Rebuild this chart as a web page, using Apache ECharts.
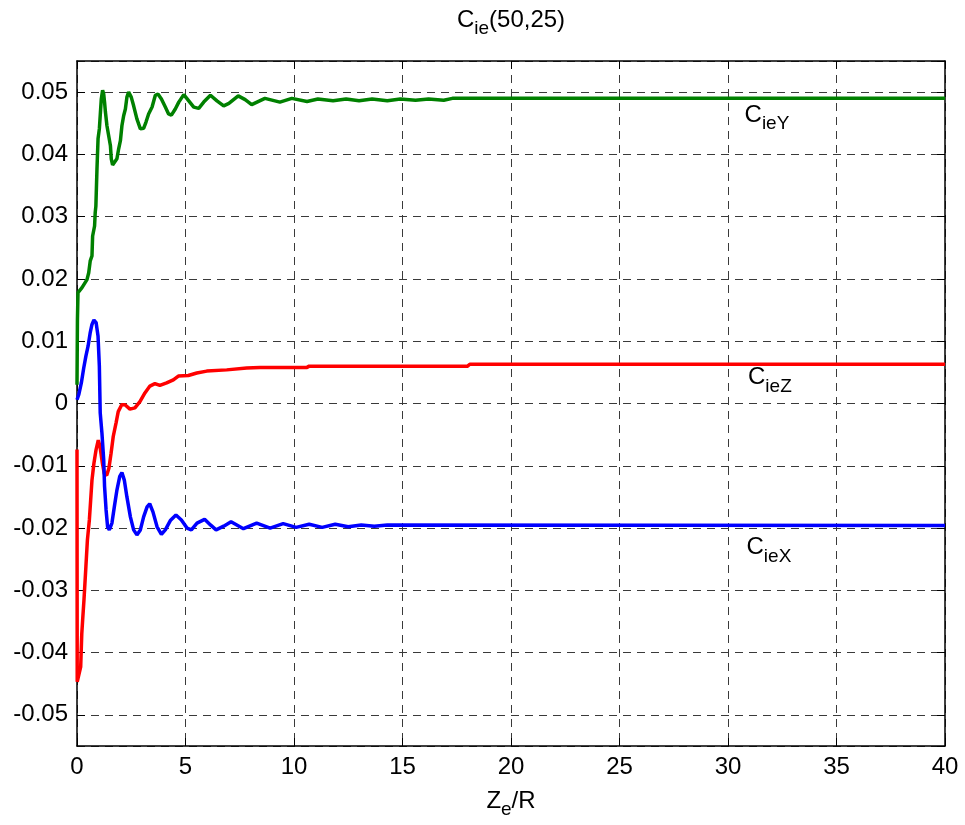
<!DOCTYPE html>
<html>
<head>
<meta charset="utf-8">
<title>C_ie(50,25)</title>
<script src="https://cdn.jsdelivr.net/npm/echarts@6/dist/echarts.min.js"></script>
<style>
  html, body { margin: 0; padding: 0; background: #fff; }
  #chart { width: 965px; height: 825px; }
</style>
</head>
<body>
<div id="chart"></div>
<script>
// Force coefficient components versus Ze/R
const xTicks = [0, 5, 10, 15, 20, 25, 30, 35, 40];

// C_ieY (green)
const cieY_z = [0, 0.02, 0.046, 0.23, 0.46, 0.54, 0.61, 0.69, 0.72, 0.81, 0.84, 0.87, 0.92, 0.97, 1.03, 1.12, 1.18, 1.23, 1.27, 1.31, 1.38, 1.46, 1.54, 1.58, 1.64, 1.73, 1.84, 1.92, 2.0, 2.07, 2.15, 2.23, 2.3, 2.38, 2.5, 2.61, 2.76, 2.92, 3.07, 3.18, 3.3, 3.46, 3.61, 3.73, 3.89, 4.07, 4.22, 4.35, 4.53, 4.69, 4.92, 5.15, 5.38, 5.61, 5.84, 6.15, 6.45, 6.76, 7.0, 7.43, 7.75, 8.05, 8.66, 9.35, 9.9, 10.6, 11.1, 11.8, 12.4, 13.0, 13.6, 14.3, 14.9, 15.6, 16.2, 16.9, 17.3, 40];
const cieY_v = [0.003, 0.0135, 0.0178, 0.0186, 0.0199, 0.021, 0.0229, 0.0237, 0.0269, 0.0285, 0.0307, 0.0317, 0.0376, 0.0425, 0.0441, 0.0489, 0.0503, 0.0497, 0.0484, 0.0468, 0.0446, 0.043, 0.0414, 0.0393, 0.0383, 0.0382, 0.0393, 0.0409, 0.0422, 0.0446, 0.0462, 0.0473, 0.0492, 0.05, 0.0492, 0.0478, 0.0457, 0.0441, 0.0442, 0.0452, 0.0465, 0.0476, 0.0495, 0.0497, 0.0489, 0.0476, 0.0465, 0.0463, 0.0473, 0.0484, 0.0496, 0.0486, 0.0476, 0.0474, 0.0484, 0.0495, 0.0486, 0.0478, 0.0482, 0.0494, 0.0488, 0.048, 0.049, 0.0484, 0.049, 0.0485, 0.0489, 0.0486, 0.0489, 0.0486, 0.0489, 0.0486, 0.0489, 0.0487, 0.0489, 0.0487, 0.049, 0.049];

// C_ieZ (red)
const cieZ_z = [0, 0.01, 0.09, 0.17, 0.22, 0.26, 0.32, 0.41, 0.48, 0.57, 0.63, 0.69, 0.78, 0.88, 0.98, 1.06, 1.17, 1.26, 1.37, 1.47, 1.57, 1.67, 1.8, 1.9, 2.06, 2.21, 2.44, 2.67, 2.9, 3.13, 3.36, 3.59, 3.82, 4.13, 4.44, 4.67, 5.13, 5.52, 5.98, 6.9, 7.82, 8.43, 10.6, 10.7, 18.0, 18.1, 40];
const cieZ_v = [-0.0074, -0.0447, -0.0447, -0.0423, -0.037, -0.0348, -0.0316, -0.0262, -0.0219, -0.0187, -0.0155, -0.0123, -0.0096, -0.0074, -0.0059, -0.0069, -0.0096, -0.0113, -0.0115, -0.0104, -0.008, -0.0053, -0.0031, -0.0013, -0.0002, -0.0002, -0.0009, -0.0007, 0.0003, 0.0017, 0.0028, 0.0032, 0.0029, 0.0033, 0.0038, 0.0044, 0.0045, 0.0049, 0.0052, 0.0054, 0.0057, 0.0058, 0.0058, 0.006, 0.006, 0.0063, 0.0063];

// C_ieX (blue)
const cieX_z = [0, 0.08, 0.2, 0.31, 0.41, 0.51, 0.61, 0.69, 0.78, 0.88, 0.97, 1.03, 1.07, 1.15, 1.23, 1.27, 1.34, 1.41, 1.49, 1.61, 1.72, 1.84, 1.97, 2.07, 2.18, 2.3, 2.46, 2.61, 2.76, 2.92, 3.07, 3.23, 3.35, 3.5, 3.69, 3.89, 4.07, 4.3, 4.56, 4.81, 5.07, 5.27, 5.53, 5.88, 6.15, 6.41, 6.76, 7.1, 7.67, 8.28, 8.9, 9.5, 10.1, 10.7, 11.3, 11.9, 12.5, 13.1, 13.7, 14.3, 40];
const cieX_v = [0.0006, 0.0014, 0.0033, 0.0057, 0.0076, 0.0092, 0.0114, 0.0127, 0.0134, 0.013, 0.0108, 0.006, -0.0015, -0.0048, -0.009, -0.0133, -0.0171, -0.0198, -0.0203, -0.0192, -0.0166, -0.0139, -0.0117, -0.0111, -0.0123, -0.015, -0.0182, -0.0203, -0.0211, -0.0203, -0.0182, -0.0166, -0.0161, -0.0174, -0.0198, -0.021, -0.0203, -0.0188, -0.0179, -0.0187, -0.02, -0.0203, -0.0192, -0.0186, -0.0195, -0.0203, -0.0197, -0.019, -0.0201, -0.0192, -0.02, -0.0193, -0.0199, -0.0194, -0.0199, -0.0194, -0.0198, -0.0195, -0.0197, -0.0195, -0.0196];

// curve name labels: [z, value] anchors in data space
const labelY = [30.74, 0.0459];
const labelZ = [30.9, 0.0038];
const labelX = [30.83, -0.0235];

const FONT = "'Liberation Sans', Arial, Helvetica, sans-serif";

function pairs(z, v) { return z.map((x, i) => [x, v[i]]); }

const subRich = {
  c: { fontSize: 24, lineHeight: 28, verticalAlign: 'top', color: '#000', fontFamily: FONT },
  s: { fontSize: 19, lineHeight: 28, verticalAlign: 'top', padding: [11, 0, 0, 0], color: '#000', fontFamily: FONT }
};

function nameMark(coord, sub) {
  return {
    symbol: 'circle',
    symbolSize: 1,
    itemStyle: { color: 'rgba(0,0,0,0)' },
    silent: true,
    animation: false,
    data: [{ coord: coord }],
    label: {
      show: true,
      position: 'right',
      distance: 0,
      formatter: '{c|C}{s|' + sub + '}',
      rich: subRich
    }
  };
}

function yLabel(v) {
  const r = Math.round(v * 100);
  if (Math.abs(v * 100 - r) > 1e-6) return '';
  const s = parseFloat((r / 100).toFixed(2)).toString();
  return s === '-0' ? '0' : s;
}

const gridLine = { show: true, lineStyle: { color: '#3a3a3a', width: 1, type: [8, 6] } };
const axisLine = { show: true, onZero: false, lineStyle: { color: '#000', width: 1.5 } };
const tick = { show: true, inside: true, length: 8, lineStyle: { color: '#000', width: 1 } };

const chart = echarts.init(document.getElementById('chart'), null, { renderer: 'canvas' });

chart.setOption({
  animation: false,
  backgroundColor: '#fff',
  textStyle: { fontFamily: FONT },
  grid: { left: 77, right: 20, top: 61, bottom: 79 },
  graphic: [{
    type: 'text',
    x: 511,
    y: 8,
    style: {
      text: '{c|C}{s|ie}{c|(50,25)}',
      rich: subRich,
      align: 'center',
      verticalAlign: 'top'
    }
  }],
  xAxis: [{
    type: 'value',
    min: xTicks[0],
    max: xTicks[xTicks.length - 1],
    interval: 5,
    position: 'bottom',
    name: '{c|Z}{s|e}{c|/R}',
    nameLocation: 'middle',
    nameGap: 43,
    nameTextStyle: { rich: subRich },
    axisLine: axisLine,
    axisTick: tick,
    axisLabel: { color: '#000', fontSize: 24, fontFamily: FONT, margin: 9 },
    splitLine: gridLine
  }, {
    type: 'value',
    min: xTicks[0],
    max: xTicks[xTicks.length - 1],
    interval: 5,
    position: 'top',
    axisLine: axisLine,
    axisTick: tick,
    axisLabel: { show: false },
    splitLine: { show: false }
  }],
  yAxis: [{
    type: 'value',
    min: -0.055,
    max: 0.055,
    splitNumber: 11,
    position: 'left',
    axisLine: axisLine,
    axisTick: tick,
    axisLabel: { color: '#000', fontSize: 24, fontFamily: FONT, margin: 9, formatter: yLabel, showMinLabel: false, showMaxLabel: false },
    splitLine: gridLine
  }, {
    type: 'value',
    min: -0.055,
    max: 0.055,
    splitNumber: 11,
    position: 'right',
    axisLine: axisLine,
    axisTick: tick,
    axisLabel: { show: false },
    splitLine: { show: false }
  }],
  series: [{
    name: 'CieY',
    type: 'line',
    data: pairs(cieY_z, cieY_v),
    showSymbol: false,
    symbol: 'none',
    lineStyle: { color: '#008000', width: 3.5 },
    markPoint: nameMark(labelY, 'ieY')
  }, {
    name: 'CieZ',
    type: 'line',
    data: pairs(cieZ_z, cieZ_v),
    showSymbol: false,
    symbol: 'none',
    lineStyle: { color: '#ff0000', width: 3.5 },
    markPoint: nameMark(labelZ, 'ieZ')
  }, {
    name: 'CieX',
    type: 'line',
    data: pairs(cieX_z, cieX_v),
    showSymbol: false,
    symbol: 'none',
    lineStyle: { color: '#0000ff', width: 3.5 },
    markPoint: nameMark(labelX, 'ieX')
  }]
});
</script>
</body>
</html>
